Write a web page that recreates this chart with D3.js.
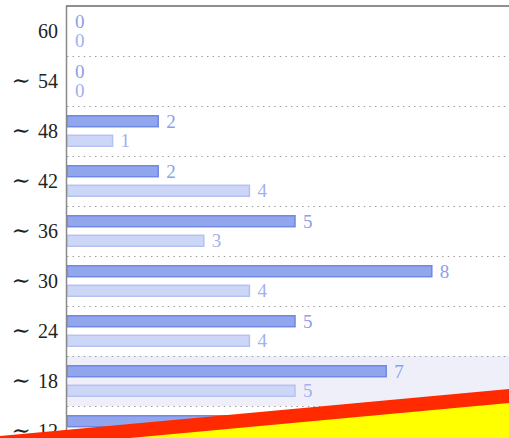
<!DOCTYPE html>
<html>
<head>
<meta charset="utf-8">
<script src="https://cdn.jsdelivr.net/npm/d3@7"></script>
<style>
  body { margin: 0; background: #fff; overflow: hidden; }
  text { font-family: "Liberation Serif", "DejaVu Serif", serif; }
</style>
</head>
<body>
<div class="chart"></div>
<script>
// size of the page
var w = 509;
var h = 438;

// categories (top to bottom) and the two series
const categories = ["60", "∼ 54", "∼ 48", "∼ 42", "∼ 36", "∼ 30", "∼ 24", "∼ 18", "∼ 12"];
const seriesNames = ["dark", "light"];
const darkValues = [0, 0, 2, 2, 5, 8, 5, 7, 6];
const lightValues = [0, 0, 1, 4, 3, 4, 4, 5, 4];
const highlighted = "∼ 18";

const marginLeft = 67, marginTop = 6;

const svg = d3.select(".chart")
  .append("svg")
  .attr("width", w)
  .attr("height", h);

// scales
const y = d3.scaleBand()
  .domain(categories)
  .range([marginTop, marginTop + 50 * categories.length]);

const yInner = d3.scaleBand()
  .domain(seriesNames)
  .range([0, y.bandwidth()])
  .paddingInner(0.44)
  .paddingOuter(0.5);

const x = d3.scaleLinear()
  .domain([0, 10])
  .range([marginLeft, marginLeft + 456]);

const colors = {
  dark: { fill: "#91a6ec", stroke: "#6e88e4", label: "#8ba0ea" },
  light: { fill: "#ccd6f6", stroke: "#b3c2f2", label: "#9fb1ee" }
};

// highlighted row background
svg.append("rect")
  .attr("x", marginLeft)
  .attr("y", y(highlighted))
  .attr("width", w - marginLeft)
  .attr("height", y.bandwidth())
  .attr("fill", "#efeff9");

// dotted row separators
svg.selectAll("line.sep")
  .data(categories.slice(1))
  .enter()
  .append("line")
  .attr("class", "sep")
  .attr("x1", marginLeft)
  .attr("x2", w)
  .attr("y1", d => y(d) + 0.5)
  .attr("y2", d => y(d) + 0.5)
  .attr("stroke", "#999")
  .attr("stroke-width", 1.2)
  .attr("stroke-dasharray", "1.4,4.2");

// bars
const rows = categories.map((c, i) => ({
  cat: c,
  vals: [
    { key: "dark", v: darkValues[i] },
    { key: "light", v: lightValues[i] }
  ]
}));

const row = svg.selectAll("g.row")
  .data(rows)
  .enter()
  .append("g")
  .attr("class", "row")
  .attr("transform", d => `translate(0,${y(d.cat)})`);

row.selectAll("rect")
  .data(d => d.vals)
  .enter()
  .append("rect")
  .attr("x", x(0))
  .attr("y", d => yInner(d.key))
  .attr("width", d => x(d.v) - x(0))
  .attr("height", yInner.bandwidth())
  .attr("fill", d => colors[d.key].fill)
  .attr("stroke", d => colors[d.key].stroke)
  .attr("stroke-width", 1.5);

row.selectAll("text")
  .data(d => d.vals)
  .enter()
  .append("text")
  .attr("x", d => x(d.v) + 8)
  .attr("y", d => yInner(d.key) + yInner.bandwidth() / 2)
  .attr("dy", "0.34em")
  .attr("font-size", 19)
  .attr("fill", d => colors[d.key].label)
  .text(d => d.v);

// category labels, the tilde drawn a bit larger like a math \sim
const cat = svg.selectAll("text.cat")
  .data(categories)
  .enter()
  .append("text")
  .attr("class", "cat")
  .attr("x", 58)
  .attr("y", d => y(d) + y.bandwidth() / 2)
  .attr("dy", "0.34em")
  .attr("text-anchor", "end")
  .attr("font-size", 20)
  .attr("fill", "#222");

cat.each(function(d) {
  const t = d3.select(this);
  const parts = d.split(" ");
  if (parts.length > 1) {
    t.append("tspan")
      .attr("font-family", "DejaVu Serif")
      .attr("font-size", 23)
      .text(parts[0] + " ");
  }
  t.append("tspan").text(parts[parts.length - 1]);
});

// frame: left axis and top border
svg.append("line")
  .attr("x1", marginLeft - 0.5).attr("x2", marginLeft - 0.5)
  .attr("y1", marginTop).attr("y2", h)
  .attr("stroke", "#8a8a8a")
  .attr("stroke-width", 1.5);

svg.append("line")
  .attr("x1", marginLeft - 1).attr("x2", w)
  .attr("y1", marginTop).attr("y2", marginTop)
  .attr("stroke", "#6a6a6a")
  .attr("stroke-width", 1.5);

// red / yellow stripe across the bottom corner
svg.append("polygon")
  .attr("points", `0,436 ${w},389 ${w},${h} 0,${h}`)
  .attr("fill", "#ff2a00");

svg.append("polygon")
  .attr("points", `0,450 ${w},403 ${w},${h} 0,${h}`)
  .attr("fill", "#ffff00");
</script>
</body>
</html>
